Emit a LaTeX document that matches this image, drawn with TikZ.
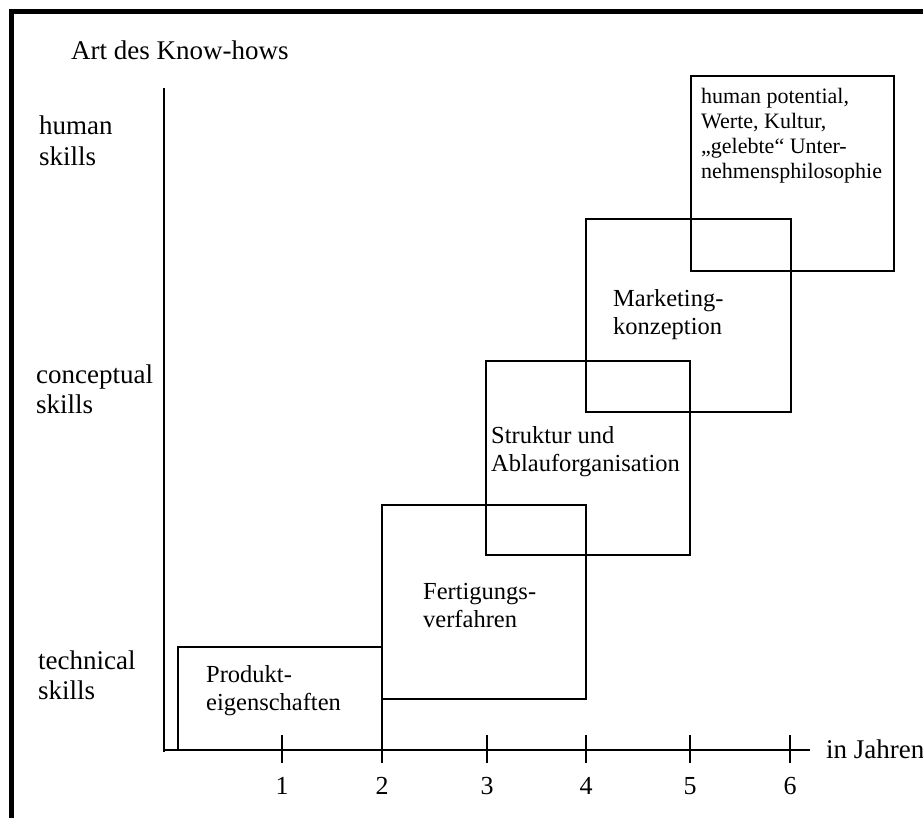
\documentclass[tikz,border=0pt]{standalone}
\usepackage{fontspec}
\setmainfont{Liberation Serif}
\begin{document}
\begin{tikzpicture}[x=1pt, y=-1pt,
  frame/.style={line width=5pt},
  axis/.style={line width=1.8pt},
  phase/.style={draw, line width=1.8pt, rectangle, inner sep=0pt},
  axislab/.style={inner sep=0pt, anchor=base west, align=left,
    font=\fontsize{27}{30.5}\selectfont},
  phaselab/.style={inner sep=0pt, anchor=base west, align=left,
    font=\fontsize{24.5}{28.5}\selectfont},
  smalllab/.style={inner sep=0pt, anchor=base west, align=left,
    font=\fontsize{22}{25}\selectfont},
  numlab/.style={inner sep=0pt, anchor=base,
    font=\fontsize{26}{30}\selectfont}]
\useasboundingbox (0,0) rectangle (923,818);

% heavy frame on top and left
\draw[frame] (11.5,830) -- (11.5,12) -- (930,12);

% axes
\coordinate (origin) at (164,750);
\coordinate (ytop) at (164,88);
\coordinate (xend) at (810,750);
\draw[axis] (ytop) -- (164,751.5);
\draw[axis] (origin) -- (xend);

% ticks and year numbers
\foreach \i/\x in {1/282,2/382,3/487,4/586,5/690,6/790}{
  \coordinate (t\i) at (\x,750);
  \draw[axis] (\x,735) -- (\x,763);
  \node[numlab] (n\i) at (\x,794) {\i};
}
\node[axislab] (jahre) at (826,758) {in Jahren};

% axis labels (multi-line nodes sit on the baseline of their last line)
\node[axislab] (art) at (71,60) {Art des Know-hows};
\node[axislab] (human) at (39,165.5) {human\\skills};
\node[axislab] (concept) at (36,413.5) {conceptual\\skills};
\node[axislab] (tech) at (38,699.5) {technical\\skills};

% overlapping phase boxes
\node[phase, minimum width=204pt, minimum height=103pt] (b1) at (280,698.5) {};
\node[phase, minimum width=204pt, minimum height=194pt] (b2) at (484,602) {};
\node[phase, minimum width=204pt, minimum height=194pt] (b3) at (588,458) {};
\node[phase, minimum width=205pt, minimum height=193pt] (b4) at (688.5,315.5) {};
\node[phase, minimum width=203pt, minimum height=195pt] (b5) at (792.5,173.5) {};

% box labels
\node[phaselab] (l1) at (206,710.5) {Produkt-\\eigenschaften};
\node[phaselab] (l2) at (423,627.5) {Fertigungs-\\verfahren};
\node[phaselab] (l3) at (491,471.5) {Struktur und\\Ablauforganisation};
\node[phaselab] (l4) at (613,334.5) {Marketing-\\konzeption};
\node[smalllab] (l5) at (701,179) {human potential,\\Werte, Kultur,\\„gelebte“ Unter-\\nehmensphilosophie};
\end{tikzpicture}
\end{document}
